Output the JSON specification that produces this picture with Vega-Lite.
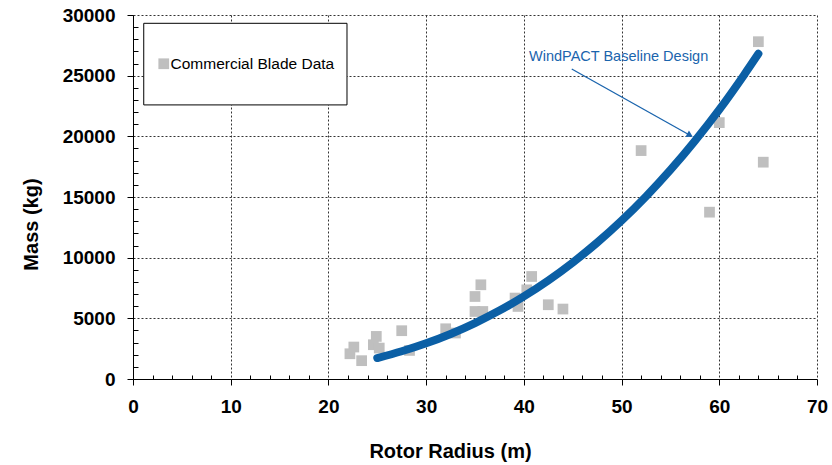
{
  "$schema": "https://vega.github.io/schema/vega-lite/v6.json",
  "width": 684,
  "height": 364,
  "autosize": "none",
  "padding": {"left": 133, "top": 15, "right": 15, "bottom": 86},
  "background": "white",
  "config": {
    "view": {"stroke": null},
    "font": "Liberation Sans",
    "axis": {
      "labelFont": "Liberation Sans",
      "titleFont": "Liberation Sans",
      "labelFontWeight": "bold",
      "titleFontWeight": "bold",
      "labelFontSize": 19,
      "titleFontSize": 20,
      "labelColor": "black",
      "titleColor": "black",
      "domainColor": "black",
      "tickColor": "black",
      "gridColor": "#333333",
      "gridDash": [2, 2],
      "gridWidth": 1,
      "labelOverlap": false,
      "labelFlush": false,
      "labelPadding": 12
    }
  },
  "datasets": {
    "blades": [
      {"radius": 22.2, "mass": 2080, "series": "Commercial Blade Data"},
      {"radius": 22.6, "mass": 2635, "series": "Commercial Blade Data"},
      {"radius": 23.4, "mass": 1510, "series": "Commercial Blade Data"},
      {"radius": 24.9, "mass": 3510, "series": "Commercial Blade Data"},
      {"radius": 24.6, "mass": 2825, "series": "Commercial Blade Data"},
      {"radius": 25.2, "mass": 2550, "series": "Commercial Blade Data"},
      {"radius": 27.5, "mass": 3980, "series": "Commercial Blade Data"},
      {"radius": 28.3, "mass": 2355, "series": "Commercial Blade Data"},
      {"radius": 32.0, "mass": 4140, "series": "Commercial Blade Data"},
      {"radius": 33.0, "mass": 3790, "series": "Commercial Blade Data"},
      {"radius": 35.0, "mass": 6800, "series": "Commercial Blade Data"},
      {"radius": 35.6, "mass": 7765, "series": "Commercial Blade Data"},
      {"radius": 35.0, "mass": 5565, "series": "Commercial Blade Data"},
      {"radius": 35.8, "mass": 5565, "series": "Commercial Blade Data"},
      {"radius": 39.1, "mass": 6670, "series": "Commercial Blade Data"},
      {"radius": 39.4, "mass": 5980, "series": "Commercial Blade Data"},
      {"radius": 40.8, "mass": 8450, "series": "Commercial Blade Data"},
      {"radius": 40.3, "mass": 7350, "series": "Commercial Blade Data"},
      {"radius": 42.5, "mass": 6120, "series": "Commercial Blade Data"},
      {"radius": 44.0, "mass": 5765, "series": "Commercial Blade Data"},
      {"radius": 52.0, "mass": 18825, "series": "Commercial Blade Data"},
      {"radius": 59.0, "mass": 13750, "series": "Commercial Blade Data"},
      {"radius": 60.0, "mass": 21130, "series": "Commercial Blade Data"},
      {"radius": 64.0, "mass": 27800, "series": "Commercial Blade Data"},
      {"radius": 64.5, "mass": 17870, "series": "Commercial Blade Data"}
    ],
    "baseline": [
      {"radius": 25, "mass": 1729},
      {"radius": 27.5, "mass": 2285},
      {"radius": 30, "mass": 2941},
      {"radius": 32.5, "mass": 3714},
      {"radius": 35, "mass": 4611},
      {"radius": 37.5, "mass": 5638},
      {"radius": 40, "mass": 6807},
      {"radius": 42.5, "mass": 8124},
      {"radius": 45, "mass": 9598},
      {"radius": 47.5, "mass": 11237},
      {"radius": 50, "mass": 13049},
      {"radius": 52.5, "mass": 15043},
      {"radius": 55, "mass": 17229},
      {"radius": 57.5, "mass": 19617},
      {"radius": 60, "mass": 22200},
      {"radius": 62.5, "mass": 25020},
      {"radius": 64, "mass": 26800}
    ]
  },
  "layer": [
    {
      "data": {"name": "blades"},
      "mark": {"type": "point", "shape": "square", "filled": true, "size": 115, "opacity": 1},
      "encoding": {
        "x": {
          "field": "radius", "type": "quantitative",
          "scale": {"domain": [0, 70], "nice": false, "zero": false},
          "axis": {
            "title": "Rotor Radius (m)",
            "values": [0,2,4,6,8,10,12,14,16,18,20,22,24,26,28,30,32,34,36,38,40,42,44,46,48,50,52,54,56,58,60,62,64,66,68,70],
            "labelExpr": "datum.value % 10 === 0 ? datum.label : ''",
            "tickSize": {"condition": {"test": "datum.value % 10 === 0", "value": 6}, "value": -4},
            "gridOpacity": {"condition": {"test": "datum.value % 10 === 0", "value": 1}, "value": 0},
            "titleX": 317,
            "titleY": 78,
            "titleBaseline": "alphabetic",
            "titleAnchor": "middle"
          }
        },
        "y": {
          "field": "mass", "type": "quantitative",
          "scale": {"domain": [0, 30000], "nice": false, "zero": false},
          "axis": {
            "title": "Mass (kg)",
            "values": [0,1000,2000,3000,4000,5000,6000,7000,8000,9000,10000,11000,12000,13000,14000,15000,16000,17000,18000,19000,20000,21000,22000,23000,24000,25000,26000,27000,28000,29000,30000],
            "labelExpr": "datum.value % 5000 === 0 ? datum.value : ''",
            "tickSize": {"condition": {"test": "datum.value % 5000 === 0", "value": 6}, "value": -5},
            "gridOpacity": {"condition": {"test": "datum.value % 5000 === 0", "value": 1}, "value": 0},
            "titleX": -96,
            "titleY": 209,
            "titleAnchor": "middle",
            "titleBaseline": "alphabetic"
          }
        },
        "color": {
          "field": "series", "type": "nominal",
          "scale": {"range": ["#bfbfbf"]},
          "legend": {
            "title": null,
            "orient": "none",
            "legendX": 23,
            "legendY": 41,
            "symbolType": "square",
            "symbolSize": 115,
            "symbolStrokeWidth": 0,
            "labelFont": "Liberation Sans",
            "labelFontSize": 15.5,
            "labelLimit": 400,
            "labelColor": "black",
            "labelOffset": -1,
            "padding": 0
          }
        }
      }
    },
    {
      "data": {"values": [{"box": "legend"}]},
      "mark": {"type": "rect", "fill": "white", "stroke": "black", "strokeWidth": 1},
      "encoding": {
        "x": {"datum": 1.1, "type": "quantitative",
          "axis": {
            "title": "Rotor Radius (m)",
            "values": [0,2,4,6,8,10,12,14,16,18,20,22,24,26,28,30,32,34,36,38,40,42,44,46,48,50,52,54,56,58,60,62,64,66,68,70],
            "labelExpr": "datum.value % 10 === 0 ? datum.label : ''",
            "tickSize": {"condition": {"test": "datum.value % 10 === 0", "value": 6}, "value": -4},
            "gridOpacity": {"condition": {"test": "datum.value % 10 === 0", "value": 1}, "value": 0},
            "titleX": 317,
            "titleY": 78,
            "titleBaseline": "alphabetic",
            "titleAnchor": "middle"
          }},
        "x2": {"datum": 21.9},
        "y": {"datum": 29316, "type": "quantitative",
          "axis": {
            "title": "Mass (kg)",
            "values": [0,1000,2000,3000,4000,5000,6000,7000,8000,9000,10000,11000,12000,13000,14000,15000,16000,17000,18000,19000,20000,21000,22000,23000,24000,25000,26000,27000,28000,29000,30000],
            "labelExpr": "datum.value % 5000 === 0 ? datum.value : ''",
            "tickSize": {"condition": {"test": "datum.value % 5000 === 0", "value": 6}, "value": -5},
            "gridOpacity": {"condition": {"test": "datum.value % 5000 === 0", "value": 1}, "value": 0},
            "titleX": -96,
            "titleY": 209,
            "titleAnchor": "middle",
            "titleBaseline": "alphabetic"
          }},
        "y2": {"datum": 22589}
      }
    },
    {
      "data": {"name": "baseline"},
      "mark": {"type": "line", "color": "#0b5fa5", "strokeWidth": 8, "strokeCap": "round", "interpolate": "monotone"},
      "encoding": {
        "x": {"field": "radius", "type": "quantitative",
          "axis": {
            "title": "Rotor Radius (m)",
            "values": [0,2,4,6,8,10,12,14,16,18,20,22,24,26,28,30,32,34,36,38,40,42,44,46,48,50,52,54,56,58,60,62,64,66,68,70],
            "labelExpr": "datum.value % 10 === 0 ? datum.label : ''",
            "tickSize": {"condition": {"test": "datum.value % 10 === 0", "value": 6}, "value": -4},
            "gridOpacity": {"condition": {"test": "datum.value % 10 === 0", "value": 1}, "value": 0},
            "titleX": 317,
            "titleY": 78,
            "titleBaseline": "alphabetic",
            "titleAnchor": "middle"
          }},
        "y": {"field": "mass", "type": "quantitative",
          "axis": {
            "title": "Mass (kg)",
            "values": [0,1000,2000,3000,4000,5000,6000,7000,8000,9000,10000,11000,12000,13000,14000,15000,16000,17000,18000,19000,20000,21000,22000,23000,24000,25000,26000,27000,28000,29000,30000],
            "labelExpr": "datum.value % 5000 === 0 ? datum.value : ''",
            "tickSize": {"condition": {"test": "datum.value % 5000 === 0", "value": 6}, "value": -5},
            "gridOpacity": {"condition": {"test": "datum.value % 5000 === 0", "value": 1}, "value": 0},
            "titleX": -96,
            "titleY": 209,
            "titleAnchor": "middle",
            "titleBaseline": "alphabetic"
          }}
      }
    },
    {
      "data": {"values": [{"label": "WindPACT Baseline Design"}]},
      "mark": {"type": "rule", "color": "#1a64ad", "strokeWidth": 1.3},
      "encoding": {
        "x": {"datum": 44.9, "type": "quantitative",
          "axis": {
            "title": "Rotor Radius (m)",
            "values": [0,2,4,6,8,10,12,14,16,18,20,22,24,26,28,30,32,34,36,38,40,42,44,46,48,50,52,54,56,58,60,62,64,66,68,70],
            "labelExpr": "datum.value % 10 === 0 ? datum.label : ''",
            "tickSize": {"condition": {"test": "datum.value % 10 === 0", "value": 6}, "value": -4},
            "gridOpacity": {"condition": {"test": "datum.value % 10 === 0", "value": 1}, "value": 0},
            "titleX": 317,
            "titleY": 78,
            "titleBaseline": "alphabetic",
            "titleAnchor": "middle"
          }},
        "y": {"datum": 25550, "type": "quantitative",
          "axis": {
            "title": "Mass (kg)",
            "values": [0,1000,2000,3000,4000,5000,6000,7000,8000,9000,10000,11000,12000,13000,14000,15000,16000,17000,18000,19000,20000,21000,22000,23000,24000,25000,26000,27000,28000,29000,30000],
            "labelExpr": "datum.value % 5000 === 0 ? datum.value : ''",
            "tickSize": {"condition": {"test": "datum.value % 5000 === 0", "value": 6}, "value": -5},
            "gridOpacity": {"condition": {"test": "datum.value % 5000 === 0", "value": 1}, "value": 0},
            "titleX": -96,
            "titleY": 209,
            "titleAnchor": "middle",
            "titleBaseline": "alphabetic"
          }},
        "x2": {"datum": 57.0},
        "y2": {"datum": 20085}
      }
    },
    {
      "data": {"values": [{"label": "WindPACT Baseline Design"}]},
      "mark": {"type": "point", "shape": "triangle-right", "filled": true, "size": 55, "angle": 29, "color": "#1a64ad", "opacity": 1},
      "encoding": {
        "x": {"datum": 57.0, "type": "quantitative",
          "axis": {
            "title": "Rotor Radius (m)",
            "values": [0,2,4,6,8,10,12,14,16,18,20,22,24,26,28,30,32,34,36,38,40,42,44,46,48,50,52,54,56,58,60,62,64,66,68,70],
            "labelExpr": "datum.value % 10 === 0 ? datum.label : ''",
            "tickSize": {"condition": {"test": "datum.value % 10 === 0", "value": 6}, "value": -4},
            "gridOpacity": {"condition": {"test": "datum.value % 10 === 0", "value": 1}, "value": 0},
            "titleX": 317,
            "titleY": 78,
            "titleBaseline": "alphabetic",
            "titleAnchor": "middle"
          }},
        "y": {"datum": 20085, "type": "quantitative",
          "axis": {
            "title": "Mass (kg)",
            "values": [0,1000,2000,3000,4000,5000,6000,7000,8000,9000,10000,11000,12000,13000,14000,15000,16000,17000,18000,19000,20000,21000,22000,23000,24000,25000,26000,27000,28000,29000,30000],
            "labelExpr": "datum.value % 5000 === 0 ? datum.value : ''",
            "tickSize": {"condition": {"test": "datum.value % 5000 === 0", "value": 6}, "value": -5},
            "gridOpacity": {"condition": {"test": "datum.value % 5000 === 0", "value": 1}, "value": 0},
            "titleX": -96,
            "titleY": 209,
            "titleAnchor": "middle",
            "titleBaseline": "alphabetic"
          }}
      }
    },
    {
      "data": {"values": [{"label": "WindPACT Baseline Design"}]},
      "mark": {"type": "text", "font": "Liberation Sans", "fontSize": 14.5, "color": "#1a64ad", "align": "center", "baseline": "alphabetic"},
      "encoding": {
        "x": {"datum": 49.7, "type": "quantitative",
          "axis": {
            "title": "Rotor Radius (m)",
            "values": [0,2,4,6,8,10,12,14,16,18,20,22,24,26,28,30,32,34,36,38,40,42,44,46,48,50,52,54,56,58,60,62,64,66,68,70],
            "labelExpr": "datum.value % 10 === 0 ? datum.label : ''",
            "tickSize": {"condition": {"test": "datum.value % 10 === 0", "value": 6}, "value": -4},
            "gridOpacity": {"condition": {"test": "datum.value % 10 === 0", "value": 1}, "value": 0},
            "titleX": 317,
            "titleY": 78,
            "titleBaseline": "alphabetic",
            "titleAnchor": "middle"
          }},
        "y": {"datum": 26240, "type": "quantitative",
          "axis": {
            "title": "Mass (kg)",
            "values": [0,1000,2000,3000,4000,5000,6000,7000,8000,9000,10000,11000,12000,13000,14000,15000,16000,17000,18000,19000,20000,21000,22000,23000,24000,25000,26000,27000,28000,29000,30000],
            "labelExpr": "datum.value % 5000 === 0 ? datum.value : ''",
            "tickSize": {"condition": {"test": "datum.value % 5000 === 0", "value": 6}, "value": -5},
            "gridOpacity": {"condition": {"test": "datum.value % 5000 === 0", "value": 1}, "value": 0},
            "titleX": -96,
            "titleY": 209,
            "titleAnchor": "middle",
            "titleBaseline": "alphabetic"
          }},
        "text": {"field": "label"}
      }
    }
  ]
}
